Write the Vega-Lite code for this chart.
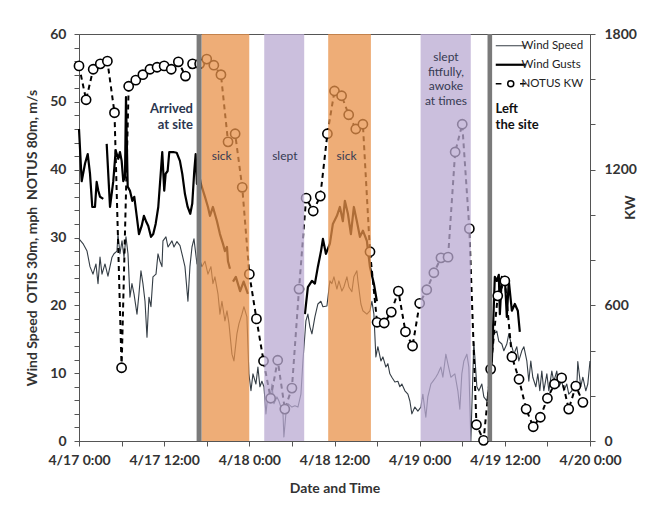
{
  "$schema": "https://vega.github.io/schema/vega-lite/v6.json",
  "width": 511,
  "height": 407,
  "padding": {"left": 25, "top": 27, "right": 0, "bottom": 0},
  "background": "white",
  "config": {
    "font": "Lato",
    "view": {"stroke": "#555555", "strokeWidth": 1},
    "axis": {
      "grid": false,
      "domainColor": "#555555",
      "tickColor": "#555555",
      "tickSize": 5,
      "labelFont": "Lato",
      "labelFontWeight": "bold",
      "labelFontSize": 14,
      "labelColor": "#333333",
      "titleFont": "Lato",
      "titleFontWeight": "bold",
      "titleFontSize": 14,
      "titleColor": "#333333"
    }
  },
  "datasets": {
    "wind": [
      {"series":"Wind Speed","part":"a","hour":0,"mph":29.8},{"series":"Wind Speed","part":"a","hour":0.56,"mph":29.1},{"series":"Wind Speed","part":"a","hour":1.13,"mph":28.0},{"series":"Wind Speed","part":"a","hour":1.55,"mph":25.7},{"series":"Wind Speed","part":"a","hour":1.97,"mph":24.6},{"series":"Wind Speed","part":"a","hour":2.39,"mph":26.1},{"series":"Wind Speed","part":"a","hour":2.68,"mph":23.2},{"series":"Wind Speed","part":"a","hour":2.96,"mph":27.1},{"series":"Wind Speed","part":"a","hour":3.24,"mph":24.6},{"series":"Wind Speed","part":"a","hour":3.66,"mph":26.1},{"series":"Wind Speed","part":"a","hour":4.08,"mph":24.3},{"series":"Wind Speed","part":"a","hour":4.65,"mph":27.1},{"series":"Wind Speed","part":"a","hour":4.93,"mph":27.6},{"series":"Wind Speed","part":"a","hour":5.35,"mph":28.0},{"series":"Wind Speed","part":"a","hour":5.49,"mph":30.5},{"series":"Wind Speed","part":"a","hour":5.77,"mph":27.6},{"series":"Wind Speed","part":"a","hour":6.06,"mph":29.5},{"series":"Wind Speed","part":"a","hour":6.34,"mph":27.1},{"series":"Wind Speed","part":"a","hour":6.62,"mph":30.1},{"series":"Wind Speed","part":"a","hour":6.9,"mph":27.6},{"series":"Wind Speed","part":"a","hour":7.18,"mph":21.2},{"series":"Wind Speed","part":"a","hour":7.46,"mph":23.2},{"series":"Wind Speed","part":"a","hour":7.75,"mph":21.7},{"series":"Wind Speed","part":"a","hour":8.17,"mph":18.7},{"series":"Wind Speed","part":"a","hour":8.45,"mph":21.7},{"series":"Wind Speed","part":"a","hour":8.73,"mph":25.1},{"series":"Wind Speed","part":"a","hour":9.01,"mph":23.2},{"series":"Wind Speed","part":"a","hour":9.3,"mph":20.6},{"series":"Wind Speed","part":"a","hour":9.58,"mph":15.3},{"series":"Wind Speed","part":"a","hour":9.86,"mph":21.2},{"series":"Wind Speed","part":"a","hour":10.14,"mph":19.8},{"series":"Wind Speed","part":"a","hour":10.42,"mph":24.2},{"series":"Wind Speed","part":"a","hour":10.85,"mph":24.6},{"series":"Wind Speed","part":"a","hour":11.13,"mph":27.6},{"series":"Wind Speed","part":"a","hour":11.41,"mph":26.5},{"series":"Wind Speed","part":"a","hour":11.69,"mph":25.7},{"series":"Wind Speed","part":"a","hour":11.83,"mph":29.5},{"series":"Wind Speed","part":"a","hour":12.25,"mph":30.1},{"series":"Wind Speed","part":"a","hour":12.54,"mph":28.6},{"series":"Wind Speed","part":"a","hour":13.1,"mph":29.5},{"series":"Wind Speed","part":"a","hour":13.38,"mph":28.6},{"series":"Wind Speed","part":"a","hour":13.8,"mph":29.4},{"series":"Wind Speed","part":"a","hour":14.23,"mph":28.8},{"series":"Wind Speed","part":"a","hour":14.51,"mph":27.6},{"series":"Wind Speed","part":"a","hour":14.93,"mph":25.7},{"series":"Wind Speed","part":"a","hour":15.35,"mph":20.6},{"series":"Wind Speed","part":"a","hour":15.63,"mph":25.7},{"series":"Wind Speed","part":"a","hour":15.92,"mph":28.6},{"series":"Wind Speed","part":"a","hour":16.2,"mph":29.8},{"series":"Wind Speed","part":"a","hour":16.62,"mph":26.1},{"series":"Wind Speed","part":"a","hour":16.76,"mph":27.6},{"series":"Wind Speed","part":"a","hour":17.32,"mph":25.7},{"series":"Wind Speed","part":"a","hour":17.75,"mph":26.5},{"series":"Wind Speed","part":"a","hour":18.17,"mph":24.6},{"series":"Wind Speed","part":"a","hour":18.59,"mph":25.7},{"series":"Wind Speed","part":"a","hour":18.87,"mph":23.2},{"series":"Wind Speed","part":"a","hour":19.15,"mph":24.2},{"series":"Wind Speed","part":"a","hour":19.58,"mph":21.7},{"series":"Wind Speed","part":"a","hour":19.86,"mph":18.7},{"series":"Wind Speed","part":"a","hour":20.14,"mph":20.6},{"series":"Wind Speed","part":"a","hour":20.56,"mph":17.7},{"series":"Wind Speed","part":"a","hour":20.85,"mph":19.2},{"series":"Wind Speed","part":"a","hour":21.13,"mph":17.3},{"series":"Wind Speed","part":"a","hour":21.55,"mph":12.8},{"series":"Wind Speed","part":"a","hour":21.83,"mph":11.8},{"series":"Wind Speed","part":"a","hour":22.25,"mph":15.8},{"series":"Wind Speed","part":"a","hour":22.54,"mph":17.3},{"series":"Wind Speed","part":"a","hour":22.96,"mph":18.7},{"series":"Wind Speed","part":"a","hour":23.24,"mph":19.8},{"series":"Wind Speed","part":"a","hour":23.66,"mph":18.3},{"series":"Wind Speed","part":"a","hour":23.94,"mph":9.9},{"series":"Wind Speed","part":"a","hour":24.23,"mph":7.4},{"series":"Wind Speed","part":"a","hour":24.51,"mph":9.9},{"series":"Wind Speed","part":"a","hour":24.93,"mph":8.4},{"series":"Wind Speed","part":"a","hour":25.21,"mph":10.9},{"series":"Wind Speed","part":"a","hour":25.49,"mph":8.0},{"series":"Wind Speed","part":"a","hour":25.77,"mph":8.8},{"series":"Wind Speed","part":"a","hour":26.06,"mph":8.0},{"series":"Wind Speed","part":"a","hour":26.34,"mph":4.0},{"series":"Wind Speed","part":"a","hour":26.62,"mph":6.9},{"series":"Wind Speed","part":"a","hour":26.9,"mph":5.9},{"series":"Wind Speed","part":"a","hour":27.18,"mph":8.4},{"series":"Wind Speed","part":"a","hour":27.46,"mph":5.5},{"series":"Wind Speed","part":"a","hour":27.89,"mph":6.5},{"series":"Wind Speed","part":"a","hour":28.17,"mph":5.9},{"series":"Wind Speed","part":"a","hour":28.45,"mph":5.0},{"series":"Wind Speed","part":"a","hour":28.73,"mph":4.4},{"series":"Wind Speed","part":"a","hour":28.87,"mph":0.6},{"series":"Wind Speed","part":"a","hour":29.15,"mph":4.0},{"series":"Wind Speed","part":"a","hour":29.44,"mph":5.5},{"series":"Wind Speed","part":"a","hour":30.0,"mph":5.0},{"series":"Wind Speed","part":"a","hour":30.42,"mph":5.2},{"series":"Wind Speed","part":"a","hour":30.85,"mph":5.0},{"series":"Wind Speed","part":"a","hour":31.27,"mph":6.9},{"series":"Wind Speed","part":"a","hour":31.55,"mph":11.8},{"series":"Wind Speed","part":"a","hour":31.97,"mph":17.7},{"series":"Wind Speed","part":"a","hour":32.25,"mph":18.7},{"series":"Wind Speed","part":"a","hour":32.54,"mph":16.8},{"series":"Wind Speed","part":"a","hour":32.82,"mph":15.8},{"series":"Wind Speed","part":"a","hour":33.24,"mph":18.3},{"series":"Wind Speed","part":"a","hour":33.66,"mph":20.2},{"series":"Wind Speed","part":"a","hour":34.08,"mph":20.6},{"series":"Wind Speed","part":"a","hour":34.37,"mph":19.8},{"series":"Wind Speed","part":"a","hour":34.93,"mph":19.9},{"series":"Wind Speed","part":"a","hour":35.35,"mph":23.6},{"series":"Wind Speed","part":"a","hour":35.63,"mph":23.2},{"series":"Wind Speed","part":"a","hour":35.92,"mph":24.2},{"series":"Wind Speed","part":"a","hour":36.34,"mph":22.4},{"series":"Wind Speed","part":"a","hour":36.62,"mph":23.6},{"series":"Wind Speed","part":"a","hour":37.04,"mph":22.1},{"series":"Wind Speed","part":"a","hour":37.32,"mph":22.7},{"series":"Wind Speed","part":"a","hour":37.75,"mph":24.2},{"series":"Wind Speed","part":"a","hour":38.03,"mph":22.7},{"series":"Wind Speed","part":"a","hour":38.45,"mph":22.0},{"series":"Wind Speed","part":"a","hour":38.73,"mph":24.2},{"series":"Wind Speed","part":"a","hour":39.15,"mph":25.1},{"series":"Wind Speed","part":"a","hour":39.3,"mph":23.6},{"series":"Wind Speed","part":"a","hour":39.72,"mph":20.2},{"series":"Wind Speed","part":"a","hour":40.0,"mph":19.2},{"series":"Wind Speed","part":"a","hour":40.56,"mph":18.7},{"series":"Wind Speed","part":"a","hour":40.99,"mph":19.2},{"series":"Wind Speed","part":"a","hour":41.27,"mph":20.6},{"series":"Wind Speed","part":"a","hour":41.55,"mph":18.7},{"series":"Wind Speed","part":"a","hour":41.83,"mph":12.4},{"series":"Wind Speed","part":"a","hour":42.11,"mph":13.9},{"series":"Wind Speed","part":"a","hour":42.54,"mph":11.8},{"series":"Wind Speed","part":"a","hour":42.82,"mph":12.4},{"series":"Wind Speed","part":"a","hour":43.24,"mph":10.9},{"series":"Wind Speed","part":"a","hour":43.52,"mph":11.4},{"series":"Wind Speed","part":"a","hour":43.8,"mph":9.9},{"series":"Wind Speed","part":"a","hour":44.08,"mph":9.4},{"series":"Wind Speed","part":"a","hour":44.51,"mph":8.7},{"series":"Wind Speed","part":"a","hour":44.93,"mph":8.8},{"series":"Wind Speed","part":"a","hour":45.21,"mph":8.0},{"series":"Wind Speed","part":"a","hour":45.49,"mph":8.4},{"series":"Wind Speed","part":"a","hour":45.92,"mph":7.4},{"series":"Wind Speed","part":"a","hour":46.34,"mph":6.9},{"series":"Wind Speed","part":"a","hour":46.62,"mph":5.9},{"series":"Wind Speed","part":"a","hour":46.9,"mph":4.0},{"series":"Wind Speed","part":"a","hour":47.32,"mph":5.0},{"series":"Wind Speed","part":"a","hour":47.75,"mph":4.4},{"series":"Wind Speed","part":"a","hour":48.17,"mph":5.0},{"series":"Wind Speed","part":"a","hour":48.45,"mph":6.9},{"series":"Wind Speed","part":"a","hour":48.87,"mph":3.5},{"series":"Wind Speed","part":"a","hour":49.15,"mph":6.5},{"series":"Wind Speed","part":"a","hour":49.58,"mph":8.4},{"series":"Wind Speed","part":"a","hour":49.86,"mph":8.8},{"series":"Wind Speed","part":"a","hour":50.28,"mph":9.4},{"series":"Wind Speed","part":"a","hour":50.56,"mph":9.9},{"series":"Wind Speed","part":"a","hour":50.99,"mph":10.9},{"series":"Wind Speed","part":"a","hour":51.27,"mph":9.4},{"series":"Wind Speed","part":"a","hour":51.69,"mph":12.8},{"series":"Wind Speed","part":"a","hour":51.97,"mph":11.4},{"series":"Wind Speed","part":"a","hour":52.39,"mph":9.4},{"series":"Wind Speed","part":"a","hour":52.96,"mph":9.9},{"series":"Wind Speed","part":"a","hour":53.38,"mph":7.4},{"series":"Wind Speed","part":"a","hour":53.66,"mph":4.7},{"series":"Wind Speed","part":"a","hour":53.94,"mph":9.9},{"series":"Wind Speed","part":"a","hour":54.23,"mph":11.8},{"series":"Wind Speed","part":"a","hour":54.65,"mph":12.8},{"series":"Wind Speed","part":"a","hour":54.93,"mph":10.9},{"series":"Wind Speed","part":"a","hour":55.21,"mph":0},{"series":"Wind Speed","part":"a","hour":55.63,"mph":14.6},{"series":"Wind Speed","part":"a","hour":56.06,"mph":8.0},{"series":"Wind Speed","part":"a","hour":56.34,"mph":7.4},{"series":"Wind Speed","part":"a","hour":56.76,"mph":8.4},{"series":"Wind Speed","part":"a","hour":57.04,"mph":6.5},{"series":"Wind Speed","part":"a","hour":57.46,"mph":5.9},{"series":"Wind Speed","part":"a","hour":57.75,"mph":8.0},{"series":"Wind Speed","part":"a","hour":58.17,"mph":11.8},{"series":"Wind Speed","part":"a","hour":58.45,"mph":15.8},{"series":"Wind Speed","part":"a","hour":58.87,"mph":16.2},{"series":"Wind Speed","part":"a","hour":59.15,"mph":14.7},{"series":"Wind Speed","part":"a","hour":59.58,"mph":14.3},{"series":"Wind Speed","part":"a","hour":59.86,"mph":13.3},{"series":"Wind Speed","part":"a","hour":60.28,"mph":14.3},{"series":"Wind Speed","part":"a","hour":60.56,"mph":15.8},{"series":"Wind Speed","part":"a","hour":60.99,"mph":13.9},{"series":"Wind Speed","part":"a","hour":61.27,"mph":12.8},{"series":"Wind Speed","part":"a","hour":61.69,"mph":13.9},{"series":"Wind Speed","part":"a","hour":61.97,"mph":11.8},{"series":"Wind Speed","part":"a","hour":62.39,"mph":13.3},{"series":"Wind Speed","part":"a","hour":62.68,"mph":13.9},{"series":"Wind Speed","part":"a","hour":63.1,"mph":11.8},{"series":"Wind Speed","part":"a","hour":63.38,"mph":8.8},{"series":"Wind Speed","part":"a","hour":63.66,"mph":11.8},{"series":"Wind Speed","part":"a","hour":63.94,"mph":9.4},{"series":"Wind Speed","part":"a","hour":64.37,"mph":8.0},{"series":"Wind Speed","part":"a","hour":64.65,"mph":9.9},{"series":"Wind Speed","part":"a","hour":64.93,"mph":7.4},{"series":"Wind Speed","part":"a","hour":65.21,"mph":10.3},{"series":"Wind Speed","part":"a","hour":65.49,"mph":7.4},{"series":"Wind Speed","part":"a","hour":65.92,"mph":9.9},{"series":"Wind Speed","part":"a","hour":66.2,"mph":7.4},{"series":"Wind Speed","part":"a","hour":66.62,"mph":10.3},{"series":"Wind Speed","part":"a","hour":66.9,"mph":8.8},{"series":"Wind Speed","part":"a","hour":67.32,"mph":10.3},{"series":"Wind Speed","part":"a","hour":67.61,"mph":8.0},{"series":"Wind Speed","part":"a","hour":68.03,"mph":8.8},{"series":"Wind Speed","part":"a","hour":68.31,"mph":7.4},{"series":"Wind Speed","part":"a","hour":68.73,"mph":8.4},{"series":"Wind Speed","part":"a","hour":69.01,"mph":6.9},{"series":"Wind Speed","part":"a","hour":69.44,"mph":7.4},{"series":"Wind Speed","part":"a","hour":69.72,"mph":8.8},{"series":"Wind Speed","part":"a","hour":70.14,"mph":8.0},{"series":"Wind Speed","part":"a","hour":70.28,"mph":11.7},{"series":"Wind Speed","part":"a","hour":70.7,"mph":8.0},{"series":"Wind Speed","part":"a","hour":70.99,"mph":9.4},{"series":"Wind Speed","part":"a","hour":71.41,"mph":7.4},{"series":"Wind Speed","part":"a","hour":71.69,"mph":8.4},{"series":"Wind Speed","part":"a","hour":72.0,"mph":11.8},
      {"series":"Wind Gusts","part":"a","hour":0,"mph":46.0},{"series":"Wind Gusts","part":"a","hour":0.38,"mph":38.3},{"series":"Wind Gusts","part":"a","hour":0.85,"mph":40.9},{"series":"Wind Gusts","part":"a","hour":1.23,"mph":42.3},{"series":"Wind Gusts","part":"a","hour":1.55,"mph":39.4},{"series":"Wind Gusts","part":"a","hour":1.87,"mph":34.5},{"series":"Wind Gusts","part":"a","hour":2.25,"mph":34.5},{"series":"Wind Gusts","part":"a","hour":2.49,"mph":38.2},{"series":"Wind Gusts","part":"a","hour":2.72,"mph":36.9},{"series":"Wind Gusts","part":"a","hour":2.96,"mph":36.0},{"series":"Wind Gusts","part":"a","hour":3.42,"mph":35.7},
      {"series":"Wind Gusts","part":"b","hour":3.9,"mph":43.8},{"series":"Wind Gusts","part":"b","hour":4.37,"mph":34.5},{"series":"Wind Gusts","part":"b","hour":4.83,"mph":38.3},{"series":"Wind Gusts","part":"b","hour":5.17,"mph":42.8},{"series":"Wind Gusts","part":"b","hour":5.54,"mph":41.6},{"series":"Wind Gusts","part":"b","hour":5.77,"mph":42.6},{"series":"Wind Gusts","part":"b","hour":6.01,"mph":41.3},{"series":"Wind Gusts","part":"b","hour":6.24,"mph":38.3},{"series":"Wind Gusts","part":"b","hour":6.48,"mph":38.9},{"series":"Wind Gusts","part":"b","hour":6.62,"mph":50.7},{"series":"Wind Gusts","part":"b","hour":6.86,"mph":37.5},{"series":"Wind Gusts","part":"b","hour":7.18,"mph":36.9},{"series":"Wind Gusts","part":"b","hour":7.51,"mph":35.4},{"series":"Wind Gusts","part":"b","hour":7.79,"mph":36.0},{"series":"Wind Gusts","part":"b","hour":8.13,"mph":33.2},{"series":"Wind Gusts","part":"b","hour":8.45,"mph":30.5},{"series":"Wind Gusts","part":"b","hour":8.83,"mph":31.7},{"series":"Wind Gusts","part":"b","hour":9.15,"mph":33.2},{"series":"Wind Gusts","part":"b","hour":9.44,"mph":32.4},{"series":"Wind Gusts","part":"b","hour":9.76,"mph":31.7},{"series":"Wind Gusts","part":"b","hour":10.14,"mph":30.1},{"series":"Wind Gusts","part":"b","hour":10.46,"mph":30.5},{"series":"Wind Gusts","part":"b","hour":10.8,"mph":32.0},{"series":"Wind Gusts","part":"b","hour":11.17,"mph":34.5},{"series":"Wind Gusts","part":"b","hour":11.51,"mph":39.4},{"series":"Wind Gusts","part":"b","hour":11.73,"mph":42.6},{"series":"Wind Gusts","part":"b","hour":12.01,"mph":36.9},{"series":"Wind Gusts","part":"b","hour":12.21,"mph":39.4},{"series":"Wind Gusts","part":"b","hour":12.49,"mph":39.8},{"series":"Wind Gusts","part":"b","hour":12.72,"mph":42.6},{"series":"Wind Gusts","part":"b","hour":13.28,"mph":42.6},{"series":"Wind Gusts","part":"b","hour":13.76,"mph":42.5},{"series":"Wind Gusts","part":"b","hour":14.22,"mph":41.3},{"series":"Wind Gusts","part":"b","hour":14.55,"mph":39.4},{"series":"Wind Gusts","part":"b","hour":14.93,"mph":36.4},{"series":"Wind Gusts","part":"b","hour":15.31,"mph":34.5},{"series":"Wind Gusts","part":"b","hour":15.68,"mph":33.5},{"series":"Wind Gusts","part":"b","hour":15.96,"mph":35.0},{"series":"Wind Gusts","part":"b","hour":16.24,"mph":39.8},{"series":"Wind Gusts","part":"b","hour":16.44,"mph":42.3},{"series":"Wind Gusts","part":"b","hour":16.62,"mph":37.9},{"series":"Wind Gusts","part":"b","hour":16.9,"mph":39.4},{"series":"Wind Gusts","part":"b","hour":17.18,"mph":37.9},{"series":"Wind Gusts","part":"b","hour":17.75,"mph":36.0},{"series":"Wind Gusts","part":"b","hour":18.17,"mph":34.5},{"series":"Wind Gusts","part":"b","hour":18.45,"mph":33.2},{"series":"Wind Gusts","part":"b","hour":18.87,"mph":34.5},{"series":"Wind Gusts","part":"b","hour":19.44,"mph":32.4},{"series":"Wind Gusts","part":"b","hour":19.86,"mph":30.5},{"series":"Wind Gusts","part":"b","hour":20.28,"mph":29.1},{"series":"Wind Gusts","part":"b","hour":20.56,"mph":28.0},{"series":"Wind Gusts","part":"b","hour":20.85,"mph":28.6},{"series":"Wind Gusts","part":"b","hour":20.99,"mph":26.5},{"series":"Wind Gusts","part":"b","hour":21.27,"mph":25.4},
      {"series":"Wind Gusts","part":"c","hour":21.7,"mph":23.5},{"series":"Wind Gusts","part":"c","hour":22.1,"mph":24.2},{"series":"Wind Gusts","part":"c","hour":22.7,"mph":22.1},{"series":"Wind Gusts","part":"c","hour":23.2,"mph":23.5},{"series":"Wind Gusts","part":"c","hour":23.8,"mph":21.7},
      {"series":"Wind Gusts","part":"d","hour":31.83,"mph":18.7},{"series":"Wind Gusts","part":"d","hour":32.25,"mph":22.7},{"series":"Wind Gusts","part":"d","hour":32.82,"mph":23.6},{"series":"Wind Gusts","part":"d","hour":33.24,"mph":23.2},{"series":"Wind Gusts","part":"d","hour":33.66,"mph":25.7},{"series":"Wind Gusts","part":"d","hour":34.1,"mph":28.0},{"series":"Wind Gusts","part":"d","hour":34.37,"mph":29.8},{"series":"Wind Gusts","part":"d","hour":34.79,"mph":27.6},{"series":"Wind Gusts","part":"d","hour":35.35,"mph":29.1},{"series":"Wind Gusts","part":"d","hour":35.77,"mph":32.0},{"series":"Wind Gusts","part":"d","hour":36.34,"mph":33.2},{"series":"Wind Gusts","part":"d","hour":36.76,"mph":34.5},{"series":"Wind Gusts","part":"d","hour":37.18,"mph":32.4},{"series":"Wind Gusts","part":"d","hour":37.46,"mph":35.4},{"series":"Wind Gusts","part":"d","hour":37.89,"mph":33.5},{"series":"Wind Gusts","part":"d","hour":38.31,"mph":30.5},{"series":"Wind Gusts","part":"d","hour":38.73,"mph":34.5},{"series":"Wind Gusts","part":"d","hour":39.15,"mph":32.4},{"series":"Wind Gusts","part":"d","hour":39.58,"mph":30.1},{"series":"Wind Gusts","part":"d","hour":40.0,"mph":31.0},{"series":"Wind Gusts","part":"d","hour":40.56,"mph":29.5},{"series":"Wind Gusts","part":"d","hour":40.99,"mph":25.7},{"series":"Wind Gusts","part":"d","hour":41.55,"mph":23.2},{"series":"Wind Gusts","part":"d","hour":41.97,"mph":20.6},
      {"series":"Wind Gusts","part":"e","hour":57.6,"mph":5.9},{"series":"Wind Gusts","part":"e","hour":58.17,"mph":11.8},{"series":"Wind Gusts","part":"e","hour":58.59,"mph":24.2},{"series":"Wind Gusts","part":"e","hour":58.87,"mph":23.6},{"series":"Wind Gusts","part":"e","hour":59.15,"mph":24.5},{"series":"Wind Gusts","part":"e","hour":59.3,"mph":18.7},{"series":"Wind Gusts","part":"e","hour":59.58,"mph":24.2},{"series":"Wind Gusts","part":"e","hour":59.86,"mph":23.6},{"series":"Wind Gusts","part":"e","hour":60.0,"mph":24.2},{"series":"Wind Gusts","part":"e","hour":60.28,"mph":18.3},{"series":"Wind Gusts","part":"e","hour":60.56,"mph":23.6},{"series":"Wind Gusts","part":"e","hour":60.99,"mph":19.2},{"series":"Wind Gusts","part":"e","hour":61.41,"mph":20.2},{"series":"Wind Gusts","part":"e","hour":61.83,"mph":19.2},{"series":"Wind Gusts","part":"e","hour":62.11,"mph":16.1}
    ],
    "notus": [
      {"series":"NOTUS KW","hour":0,"kw":1659},{"series":"NOTUS KW","hour":1,"kw":1509},{"series":"NOTUS KW","hour":2,"kw":1644},{"series":"NOTUS KW","hour":3,"kw":1668},{"series":"NOTUS KW","hour":4,"kw":1680},{"series":"NOTUS KW","hour":5,"kw":1452},{"series":"NOTUS KW","hour":6,"kw":324},{"series":"NOTUS KW","hour":7,"kw":1569},{"series":"NOTUS KW","hour":8,"kw":1596},{"series":"NOTUS KW","hour":9,"kw":1620},{"series":"NOTUS KW","hour":10,"kw":1644},{"series":"NOTUS KW","hour":11,"kw":1653},{"series":"NOTUS KW","hour":12,"kw":1659},{"series":"NOTUS KW","hour":13,"kw":1644},{"series":"NOTUS KW","hour":14,"kw":1677},{"series":"NOTUS KW","hour":15,"kw":1614},{"series":"NOTUS KW","hour":16,"kw":1668},{"series":"NOTUS KW","hour":17,"kw":1668},{"series":"NOTUS KW","hour":18,"kw":1689},{"series":"NOTUS KW","hour":19,"kw":1662},{"series":"NOTUS KW","hour":20,"kw":1620},{"series":"NOTUS KW","hour":21,"kw":1323},{"series":"NOTUS KW","hour":22,"kw":1359},{"series":"NOTUS KW","hour":23,"kw":1122},{"series":"NOTUS KW","hour":24,"kw":738},{"series":"NOTUS KW","hour":25,"kw":540},{"series":"NOTUS KW","hour":26,"kw":354},{"series":"NOTUS KW","hour":27,"kw":189},{"series":"NOTUS KW","hour":28,"kw":357},{"series":"NOTUS KW","hour":29,"kw":141},{"series":"NOTUS KW","hour":30,"kw":234},{"series":"NOTUS KW","hour":31,"kw":672},{"series":"NOTUS KW","hour":32,"kw":1074},{"series":"NOTUS KW","hour":33,"kw":1017},{"series":"NOTUS KW","hour":34,"kw":1083},{"series":"NOTUS KW","hour":35,"kw":1359},{"series":"NOTUS KW","hour":36,"kw":1548},{"series":"NOTUS KW","hour":37,"kw":1527},{"series":"NOTUS KW","hour":38,"kw":1443},{"series":"NOTUS KW","hour":39,"kw":1380},{"series":"NOTUS KW","hour":40,"kw":1401},{"series":"NOTUS KW","hour":41,"kw":837},{"series":"NOTUS KW","hour":42,"kw":525},{"series":"NOTUS KW","hour":43,"kw":522},{"series":"NOTUS KW","hour":44,"kw":570},{"series":"NOTUS KW","hour":45,"kw":663},{"series":"NOTUS KW","hour":46,"kw":483},{"series":"NOTUS KW","hour":47,"kw":420},{"series":"NOTUS KW","hour":48,"kw":609},{"series":"NOTUS KW","hour":49,"kw":669},{"series":"NOTUS KW","hour":50,"kw":744},{"series":"NOTUS KW","hour":51,"kw":810},{"series":"NOTUS KW","hour":52,"kw":813},{"series":"NOTUS KW","hour":53,"kw":1278},{"series":"NOTUS KW","hour":54,"kw":1401},{"series":"NOTUS KW","hour":55,"kw":939},{"series":"NOTUS KW","hour":56,"kw":72},{"series":"NOTUS KW","hour":57,"kw":3},{"series":"NOTUS KW","hour":58,"kw":318},{"series":"NOTUS KW","hour":59,"kw":642},{"series":"NOTUS KW","hour":60,"kw":708},{"series":"NOTUS KW","hour":61,"kw":372},{"series":"NOTUS KW","hour":62,"kw":273},{"series":"NOTUS KW","hour":63,"kw":141},{"series":"NOTUS KW","hour":64,"kw":63},{"series":"NOTUS KW","hour":65,"kw":105},{"series":"NOTUS KW","hour":66,"kw":189},{"series":"NOTUS KW","hour":67,"kw":252},{"series":"NOTUS KW","hour":68,"kw":279},{"series":"NOTUS KW","hour":69,"kw":141},{"series":"NOTUS KW","hour":70,"kw":243},{"series":"NOTUS KW","hour":71,"kw":171}
    ],
    "periods": [
      {"kind":"sick","start":17.27,"end":23.99},
      {"kind":"slept","start":26.1,"end":31.73},
      {"kind":"sick","start":35.11,"end":41.13},
      {"kind":"slept","start":48.13,"end":55.2}
    ],
    "site": [
      {"event":"arrived","start":16.57,"end":17.27},
      {"event":"left","start":57.56,"end":58.21}
    ]
  },
  "layer": [
    {
      "data": {"name": "wind"},
      "mark": {"type": "line", "strokeJoin": "round"},
      "encoding": {
        "x": {
          "field": "hour", "type": "quantitative",
          "scale": {"domain": [0, 72], "nice": false, "zero": false},
          "axis": {
            "title": "Date and Time",
            "values": [0,6,12,18,24,30,36,42,48,54,60,66,72],
            "labelExpr": "datum.value % 12 === 0 ? ['4/17 0:00','4/17 12:00','4/18 0:00','4/18 12:00','4/19 0:00','4/19 12:00','4/20 0:00'][datum.value / 12] : ''",
            "labelFlush": false,
            "labelOverlap": false,
            "labelPadding": 7,
            "titlePadding": 14
          }
        },
        "y": {
          "field": "mph", "type": "quantitative",
          "scale": {"domain": [0, 60], "nice": false},
          "axis": {
            "orient": "left",
            "title": "Wind Speed \u00a0OTIS 30m, mph \u00a0NOTUS 80m, m/s",
            "values": [0,2,4,6,8,10,12,14,16,18,20,22,24,26,28,30,32,34,36,38,40,42,44,46,48,50,52,54,56,58,60],
            "labelExpr": "datum.value % 10 === 0 ? datum.label : ''",
            "labelOverlap": false,
            "labelPadding": 8,
            "titlePadding": 10
          }
        },
        "detail": {"field": "part"},
        "color": {
          "field": "series", "type": "nominal",
          "scale": {"domain": ["Wind Speed", "Wind Gusts", "NOTUS KW"], "range": ["#343d45", "#000000", "#000000"]},
          "legend": {
            "title": null,
            "orient": "top-right",
            "offset": 4,
            "padding": 2,
            "symbolType": "stroke",
            "symbolSize": 900,
            "labelFont": "Lato",
            "labelFontSize": 11.5,
            "labelColor": "#222222",
            "labelOffset": 5,
            "rowPadding": 6,
            "encode": {
              "symbols": {
                "update": {
                  "shape": {"signal": "datum.value === 'NOTUS KW' ? 'M-1,0H-0.62M0.2,0A0.2,0.2 0 1,1 -0.2,0A0.2,0.2 0 1,1 0.2,0M0.62,0H1' : 'stroke'"},
                  "strokeWidth": {"signal": "datum.value === 'Wind Gusts' ? 2.2 : (datum.value === 'NOTUS KW' ? 1.5 : 1)"},
                  "fill": {"value": "white"}
                }
              }
            }
          }
        },
        "strokeWidth": {
          "field": "series", "type": "nominal",
          "scale": {"domain": ["Wind Speed", "Wind Gusts"], "range": [1.1, 2.2]},
          "legend": null
        }
      }
    },
    {
      "data": {"name": "notus"},
      "layer": [
        {
          "mark": {"type": "line", "strokeDash": [5, 4], "strokeWidth": 2},
          "encoding": {
            "x": {"field": "hour", "type": "quantitative"},
            "y": {
              "field": "kw", "type": "quantitative",
              "scale": {"domain": [0, 1800], "nice": false},
              "axis": {
                "orient": "right",
                "title": "KW",
                "titleAngle": 270,
                "titleX": 40,
                "titleY": 173,
                "titleAlign": "center",
                "titleBaseline": "middle",
                "values": [0,100,200,300,400,500,600,700,800,900,1000,1100,1200,1300,1400,1500,1600,1700,1800],
                "format": "d",
                "labelExpr": "datum.value % 300 === 0 ? datum.label : ''",
                "labelOverlap": false,
                "labelPadding": 9
              }
            },
            "color": {"field": "series", "type": "nominal", "scale": {"domain": ["Wind Speed", "Wind Gusts", "NOTUS KW"], "range": ["#343d45", "#000000", "#000000"]}}
          }
        },
        {
          "mark": {"type": "point", "shape": "circle", "filled": true, "fill": "white", "stroke": "black", "strokeWidth": 1.6, "size": 85, "opacity": 1},
          "encoding": {
            "x": {"field": "hour", "type": "quantitative"},
            "y": {"field": "kw", "type": "quantitative"}
          }
        }
      ]
    },
    {
      "data": {"name": "periods"},
      "mark": {"type": "rect", "opacity": 0.75},
      "encoding": {
        "x": {"field": "start", "type": "quantitative"},
        "x2": {"field": "end"},
        "fill": {"field": "kind", "type": "nominal", "scale": {"domain": ["sick", "slept"], "range": ["#E8914A", "#B9A9D2"]}, "legend": null}
      }
    },
    {
      "data": {"name": "site"},
      "mark": {"type": "rect", "color": "#7a7a7a", "opacity": 1},
      "encoding": {
        "x": {"field": "start", "type": "quantitative"},
        "x2": {"field": "end"}
      }
    },
    {
      "data": {"values": [{"label": "Arrived\nat site", "hour": 16.06, "mph": 49.9}]},
      "mark": {"type": "text", "align": "right", "baseline": "top", "lineBreak": "\n", "lineHeight": 16, "font": "Lato", "fontWeight": "bold", "fontSize": 13, "color": "#2b3650"},
      "encoding": {
        "x": {"field": "hour", "type": "quantitative"},
        "y": {"field": "mph", "type": "quantitative", "scale": {"domain": [0, 60], "nice": false}, "axis": null},
        "text": {"field": "label"}
      }
    },
    {
      "data": {"values": [{"label": "Left\nthe site", "hour": 58.7, "mph": 49.9}]},
      "mark": {"type": "text", "align": "left", "baseline": "top", "lineBreak": "\n", "lineHeight": 16, "font": "Lato", "fontWeight": "bold", "fontSize": 13, "color": "#111111"},
      "encoding": {
        "x": {"field": "hour", "type": "quantitative"},
        "y": {"field": "mph", "type": "quantitative", "scale": {"domain": [0, 60], "nice": false}, "axis": null},
        "text": {"field": "label"}
      }
    },
    {
      "data": {"values": [{"label": "sick", "hour": 20.1, "mph": 41.7}, {"label": "slept", "hour": 29.0, "mph": 41.7}, {"label": "sick", "hour": 37.7, "mph": 41.7}, {"label": "slept\nfitfully,\nawoke\nat times", "hour": 51.7, "mph": 56.3}]},
      "mark": {"type": "text", "align": "center", "baseline": "top", "dy": -7, "lineBreak": "\n", "lineHeight": 14.5, "font": "Lato", "fontSize": 12, "color": "#363a52"},
      "encoding": {
        "x": {"field": "hour", "type": "quantitative"},
        "y": {"field": "mph", "type": "quantitative", "scale": {"domain": [0, 60], "nice": false}, "axis": null},
        "text": {"field": "label"}
      }
    }
  ],
  "resolve": {"scale": {"y": "independent"}}
}
